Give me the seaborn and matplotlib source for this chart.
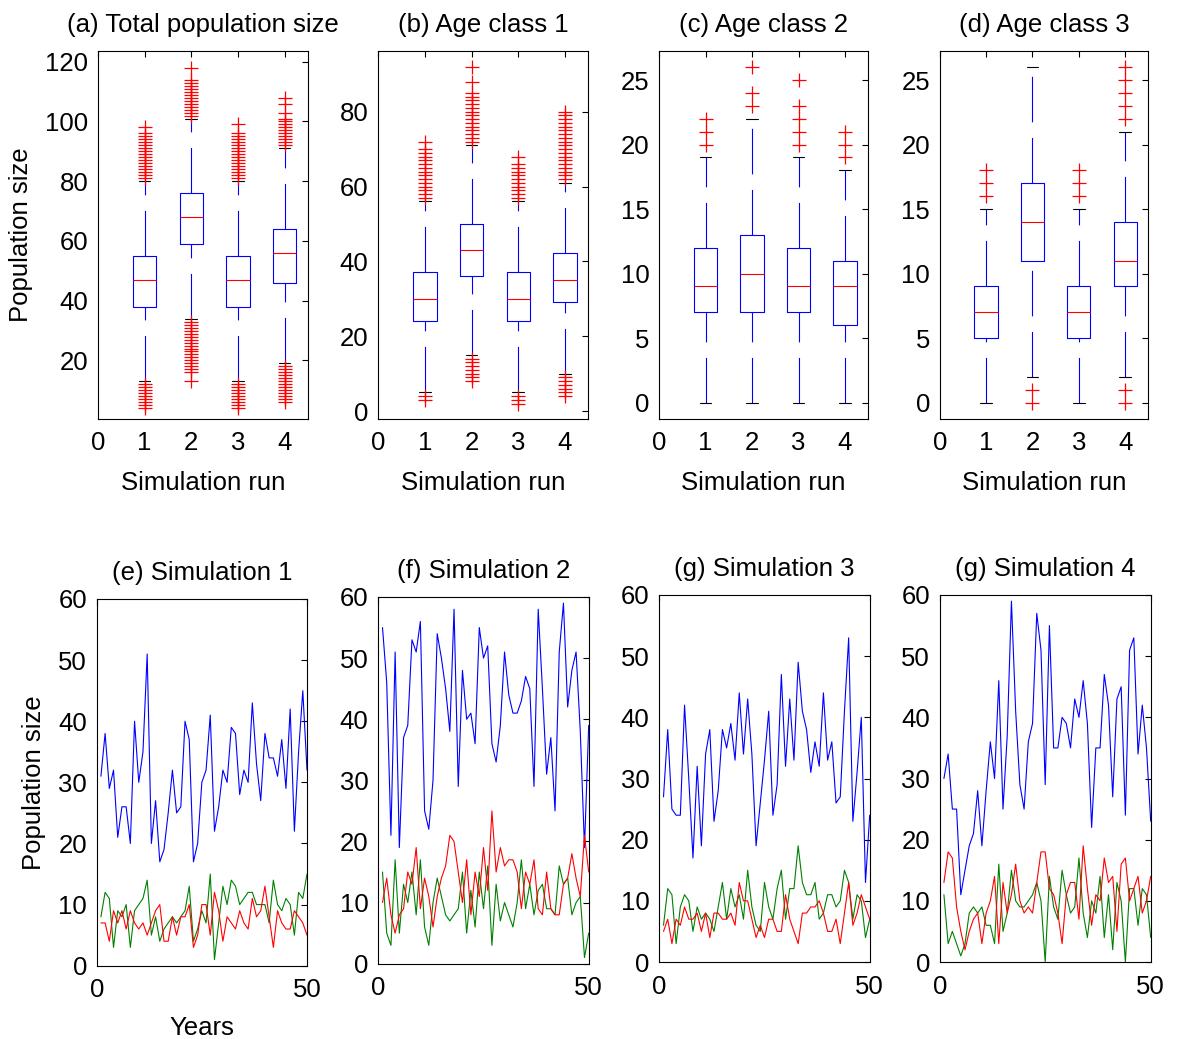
import matplotlib
matplotlib.use("Agg")
import matplotlib.pyplot as plt
import seaborn as sns

# ---------------- data ----------------
runs = [1, 2, 3, 4]
# per run: [lower whisker, q1, median, q3, upper whisker]
total_stats = [[13, 38, 47, 55, 80], [34, 59, 68, 76, 101],
               [13, 38, 47, 55, 80], [19, 46, 56, 64, 91]]
total_outliers = [
    [4, 5, 6, 7, 8, 9, 10, 11, 12, 81, 82, 83, 84, 85, 86, 87, 88, 89, 90, 91, 92, 93, 94, 95, 96, 98],
    [13, 16, 17, 18, 19, 20, 21, 22, 23, 24, 25, 26, 27, 28, 29, 30, 31, 32, 33,
     102, 103, 104, 105, 106, 107, 108, 109, 110, 111, 112, 113, 114, 118],
    [4, 5, 6, 7, 8, 9, 10, 11, 12, 81, 82, 83, 84, 85, 86, 87, 88, 89, 90, 91, 92, 93, 94, 95, 96, 99],
    [6, 7, 8, 9, 10, 11, 12, 13, 14, 15, 16, 17, 18, 92, 93, 94, 95, 96, 97, 98, 99, 100, 101, 103, 106, 108],
]
age1_stats = [[5, 24, 30, 37.3, 56], [15, 36, 43, 50, 71],
              [5, 24, 30, 37.3, 56], [10, 29.1, 35.1, 42.3, 61]]
age1_outliers = [
    [3, 4, 57, 58, 59, 60, 61, 62, 63, 64, 65, 66, 67, 68, 69, 70, 72],
    [8, 9, 10, 11, 12, 13, 14, 72, 73, 74, 75, 76, 77, 78, 79, 80, 81, 82, 83, 84, 85, 88, 92],
    [2, 3, 4, 57, 58, 59, 60, 61, 62, 63, 64, 65, 66, 68],
    [4, 5, 6, 7, 8, 9, 62, 63, 64, 65, 66, 67, 68, 69, 70, 71, 72, 73, 74, 75, 76, 77, 78, 79, 80],
]
age2_stats = [[0, 7, 9, 12, 19], [0, 7, 10, 13, 22], [0, 7, 9, 12, 19], [0, 6, 9, 11, 18]]
age2_outliers = [[20, 21, 22], [23, 24, 26], [20, 21, 22, 23, 25], [19, 20, 21]]
age3_stats = [[0, 5, 7, 9, 15], [2, 11, 14, 17, 26], [0, 5, 7, 9, 15], [2, 9, 11, 14, 21]]
age3_outliers = [[16, 17, 18], [0, 1], [16, 17, 18], [0, 1, 22, 23, 24, 25, 26]]

years = list(range(1, 51))
blue_e = [31, 38, 29, 32, 21, 26, 26, 20, 40, 30, 35, 51, 20, 27, 17, 19, 25, 32, 25, 26,
          40, 37, 17, 20, 30, 32, 41, 22, 26, 32, 30, 39, 38, 28, 32, 30, 43, 33, 27, 38,
          34, 34, 31, 37, 29, 42, 22, 35, 45, 32]
green_e = [8, 12, 11, 3, 9, 8, 10, 3, 9, 10, 11, 14, 5, 8, 4, 6, 7, 8, 7, 8,
           9, 13, 4, 6, 9, 7, 15, 1, 7, 13, 10, 14, 13, 10, 11, 12, 12, 10, 10, 10,
           7, 14, 10, 9, 11, 10, 5, 12, 11, 15]
red_e = [7, 7, 4, 9, 7, 9, 6, 9, 7, 6, 7, 5, 7, 9, 10, 4, 4, 8, 5, 8,
         8, 10, 3, 5, 10, 10, 5, 12, 9, 4, 8, 7, 6, 9, 7, 6, 11, 8, 9, 13,
         8, 3, 9, 7, 6, 6, 9, 8, 7, 5]
blue_f = [55, 46, 21, 51, 19, 37, 39, 53, 51, 56, 25, 22, 30, 54, 50, 45, 38, 58, 29, 48,
          40, 41, 36, 55, 50, 52, 36, 33, 39, 51, 44, 41, 41, 43, 47, 45, 29, 58, 45, 31,
          37, 25, 51, 59, 42, 48, 51, 38, 19, 39]
green_f = [15, 5, 3, 17, 5, 13, 10, 15, 8, 17, 6, 3, 10, 14, 11, 8, 7, 8, 9, 15,
           5, 12, 6, 15, 9, 16, 3, 13, 7, 10, 8, 6, 10, 17, 9, 13, 8, 12, 13, 9,
           9, 8, 16, 13, 14, 8, 10, 11, 1, 5]
red_f = [10, 14, 8, 5, 8, 9, 15, 13, 19, 9, 14, 11, 6, 11, 14, 16, 21, 20, 15, 10,
         17, 8, 15, 11, 19, 12, 25, 15, 19, 16, 17, 17, 15, 9, 15, 13, 17, 9, 8, 15,
         9, 8, 8, 13, 14, 18, 14, 11, 21, 15]
blue_g = [27, 38, 25, 24, 24, 42, 30, 17, 32, 19, 34, 38, 23, 28, 38, 35, 39, 33, 44, 34,
          43, 34, 19, 26, 33, 41, 24, 29, 47, 32, 43, 33, 49, 41, 38, 31, 36, 32, 44, 33,
          36, 26, 27, 41, 53, 23, 31, 40, 13, 24]
green_g = [6, 12, 11, 3, 9, 11, 10, 5, 9, 7, 8, 7, 5, 9, 13, 7, 12, 9, 11, 7,
           15, 9, 6, 5, 13, 9, 7, 12, 15, 7, 12, 12, 19, 13, 11, 11, 13, 7, 8, 11,
           11, 9, 10, 15, 13, 7, 11, 10, 4, 7]
red_g = [5, 7, 3, 7, 6, 9, 7, 7, 8, 5, 8, 4, 8, 8, 7, 7, 8, 6, 13, 10,
         10, 7, 4, 6, 4, 7, 7, 5, 5, 11, 7, 5, 3, 8, 8, 9, 9, 10, 8, 5,
         5, 7, 3, 8, 13, 6, 8, 11, 9, 7]
blue_h = [30, 34, 25, 25, 11, 15, 19, 21, 28, 19, 28, 36, 30, 46, 25, 37, 59, 41, 29, 25,
          36, 39, 57, 51, 29, 55, 35, 35, 40, 39, 35, 43, 40, 46, 39, 22, 35, 35, 47, 42,
          27, 43, 45, 24, 51, 53, 34, 42, 35, 23]
green_h = [11, 3, 5, 3, 1, 3, 8, 9, 8, 9, 6, 6, 3, 16, 5, 8, 15, 10, 9, 9,
           10, 11, 13, 10, 0, 14, 9, 7, 15, 11, 8, 9, 17, 8, 4, 10, 8, 14, 4, 11,
           2, 13, 10, 0, 12, 12, 6, 12, 11, 4]
red_h = [13, 18, 17, 9, 5, 2, 5, 7, 8, 3, 8, 10, 14, 3, 13, 8, 11, 16, 10, 8,
         9, 8, 13, 18, 18, 12, 11, 8, 3, 11, 13, 13, 7, 19, 12, 6, 11, 10, 17, 13,
         14, 5, 16, 17, 10, 12, 14, 8, 10, 14]

top_titles = ["(a) Total population size", "(b) Age class 1", "(c) Age class 2", "(d) Age class 3"]
bottom_titles = ["(e) Simulation 1", "(f) Simulation 2", "(g) Simulation 3", "(g) Simulation 4"]

# ---------------- style ----------------
sns.set_style("white")
plt.rcParams['font.family'] = ['Liberation Sans', 'DejaVu Sans']
plt.rcParams['text.color'] = 'black'
plt.rcParams['axes.labelcolor'] = 'black'
plt.rcParams['axes.titlecolor'] = 'black'
FS = 18.5
plt.rcParams['font.size'] = FS

W, H = 1178, 1039
fig = plt.figure(figsize=(W / 100, H / 100), dpi=100)


def rect(l, t, r, b):
    return [l / W, 1 - b / H, (r - l) / W, (b - t) / H]


def style(ax):
    ax.tick_params(direction='in', top=True, right=True, length=4, width=0.8,
                   labelsize=FS, pad=7, colors='black')
    ax.tick_params(axis='x', pad=9)
    for s in ax.spines.values():
        s.set_visible(True)
        s.set_linewidth(0.8)
        s.set_color('black')


def box_panel(pos, stats, outliers, ylim, yticks, title, ylabel=None):
    ax = fig.add_axes(rect(*pos))
    xs, ys = [], []
    for r, s in zip(runs, stats):
        xs += [r] * len(s)
        ys += list(s)
    sns.boxplot(x=xs, y=ys, native_scale=True, fill=False, color='blue', saturation=1,
                width=0.5, whis=(0, 100), showfliers=False, linewidth=0.8,
                medianprops=dict(color='red', linewidth=0.8),
                whiskerprops=dict(color='blue', linewidth=0.8, linestyle=(0, (41, 14))),
                capprops=dict(color='black', linewidth=0.8),
                boxprops=dict(color='blue', linewidth=0.8),
                legend=False, ax=ax)
    # start the lower whisker dash pattern at the cap end
    for ln in ax.lines:
        xd, yd = list(ln.get_xdata()), list(ln.get_ydata())
        if len(xd) == 2 and xd[0] == xd[1] and yd[0] > yd[1]:
            ln.set_data(xd[::-1], yd[::-1])
    ox, oy = [], []
    for r, o in zip(runs, outliers):
        ox += [r] * len(o)
        oy += list(o)
    sns.scatterplot(x=ox, y=oy, marker='+', color='red', s=95, linewidth=0.9,
                    legend=False, ax=ax, zorder=3)
    ax.set_xlim(0, 4.5)
    ax.set_ylim(*ylim)
    ax.set_xticks([0, 1, 2, 3, 4])
    ax.set_yticks(yticks)
    ax.set_title(title, fontsize=FS, pad=14)
    ax.set_xlabel("Simulation run", fontsize=FS, labelpad=11)
    ax.set_ylabel(ylabel if ylabel else "", fontsize=FS, labelpad=9)
    style(ax)
    return ax


def line_panel(pos, blue, green, red, title, xlabel=None, ylabel=None):
    ax = fig.add_axes(rect(*pos))
    sns.lineplot(x=years, y=blue, color='#0000ff', linewidth=0.8, ax=ax)
    sns.lineplot(x=years, y=green, color='#008000', linewidth=0.8, ax=ax)
    sns.lineplot(x=years, y=red, color='#ff0000', linewidth=0.8, ax=ax)
    ax.set_xlim(0, 50)
    ax.set_ylim(0, 60)
    ax.set_xticks([0, 50])
    ax.set_yticks([0, 10, 20, 30, 40, 50, 60])
    ax.set_title(title, fontsize=FS, pad=14)
    ax.set_xlabel(xlabel if xlabel else "", fontsize=FS, labelpad=10)
    ax.set_ylabel(ylabel if ylabel else "", fontsize=FS, labelpad=9)
    style(ax)
    return ax


box_panel((98, 51, 308, 419), total_stats, total_outliers, (0.4, 123.6),
          [20, 40, 60, 80, 100, 120], top_titles[0], "Population size")
box_panel((378.3, 51, 588.3, 419), age1_stats, age1_outliers, (-2.1, 96.2),
          [0, 20, 40, 60, 80], top_titles[1])
box_panel((659, 51, 868.3, 419), age2_stats, age2_outliers, (-1.27, 27.25),
          [0, 5, 10, 15, 20, 25], top_titles[2])
box_panel((939.7, 51, 1148.3, 419), age3_stats, age3_outliers, (-1.27, 27.25),
          [0, 5, 10, 15, 20, 25], top_titles[3])

line_panel((96.7, 599, 307, 965.7), blue_e, green_e, red_e, bottom_titles[0],
           "Years", "Population size")
line_panel((378.3, 597, 588.7, 963.7), blue_f, green_f, red_f, bottom_titles[1])
line_panel((659.3, 595, 869.7, 962), blue_g, green_g, red_g, bottom_titles[2])
line_panel((939.7, 595, 1150.7, 962), blue_h, green_h, red_h, bottom_titles[3])

fig.savefig("out.png", dpi=100, facecolor='white')
